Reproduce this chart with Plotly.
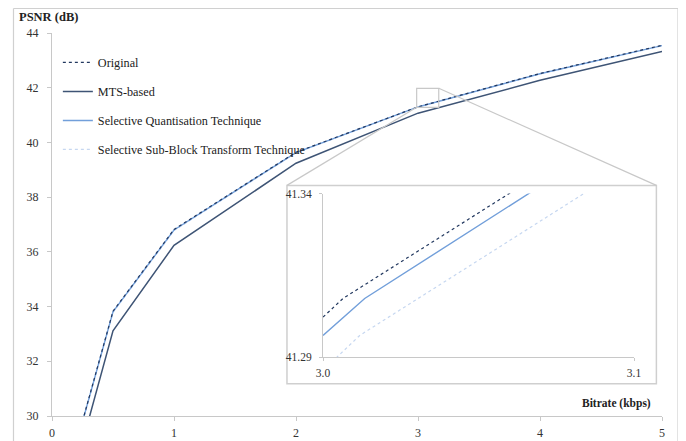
import plotly.graph_objects as go

# ---------------- data ----------------
bitrate = [0.25, 0.5, 1, 2, 3, 4, 5]
original = [29.81, 33.83, 36.82, 39.64, 41.30, 42.52, 43.55]
mts_based = [29.04, 33.11, 36.24, 39.24, 41.07, 42.27, 43.32]
sel_quant = [29.79, 33.81, 36.80, 39.63, 41.297, 42.51, 43.54]
sel_subblock = [29.77, 33.79, 36.78, 39.62, 41.292, 42.50, 43.53]

# zoomed inset values
inset_orig_x = [3.0, 3.0064, 3.0700]
inset_orig_y = [41.3022, 41.3079, 41.3461]
inset_sq_x = [3.0, 3.0134, 3.0750]
inset_sq_y = [41.2966, 41.3079, 41.3454]
inset_ssb_x = [3.0, 3.0118, 3.0900]
inset_ssb_y = [41.2859, 41.2966, 41.3437]

main_xticks = [0, 1, 2, 3, 4, 5]
main_yticks = [30, 32, 34, 36, 38, 40, 42, 44]
inset_xticks = [3.0, 3.1]
inset_xtext = ["3.0", "3.1"]
inset_yticks = [41.29, 41.34]
inset_ytext = ["41.29", "41.34"]

names = ["Original", "MTS-based", "Selective Quantisation Technique",
         "Selective Sub-Block Transform Technique"]

C_ORIG = "#22385F"
C_MTS = "#3E5475"
C_SQ = "#729FDA"
C_SSB = "#C6D7F0"
FONT = "Liberation Serif"
AX = "#C8C8C8"
TXT = "#222222"

# plot-area geometry (pixels) used to place decorations in paper units
L, R, T, B = 44, 24, 25, 25
W, H = 678, 433
PW, PH = W - L - R, H - T - B

fig = go.Figure()

styles = [
    (sel_subblock, names[3], C_SSB, "dot", 1.2),
    (sel_quant, names[2], C_SQ, "solid", 1.4),
    (mts_based, names[1], C_MTS, "solid", 1.5),
    (original, names[0], C_ORIG, "dot", 1.2),
]
rank = {names[0]: 1, names[1]: 2, names[2]: 3, names[3]: 4}
for ys, nm, col, dash, w in styles:
    fig.add_trace(go.Scatter(x=bitrate, y=ys, name=nm, mode="lines",
                             line=dict(color=col, dash=dash, width=w),
                             legendgroup=nm, legendrank=rank[nm],
                             xaxis="x", yaxis="y"))

for xs, ys, col, dash, w in [
    (inset_ssb_x, inset_ssb_y, C_SSB, "dot", 1.2),
    (inset_sq_x, inset_sq_y, C_SQ, "solid", 1.4),
    (inset_orig_x, inset_orig_y, C_ORIG, "dot", 1.2),
]:
    fig.add_trace(go.Scatter(x=xs, y=ys, mode="lines", showlegend=False,
                             line=dict(color=col, dash=dash, width=w),
                             xaxis="x2", yaxis="y2"))

# inset box + connectors (main data coordinates)
box = dict(x0=1.926, x1=4.954, y0=31.18, y1=38.43)
zoom_rect = dict(x0=2.989, x1=3.170, y0=41.284, y1=41.978)
GRAY = "#C8C8C8"
shapes = [
    dict(type="rect", xref="x", yref="y", **box, fillcolor="white",
         line=dict(color="#CFCFCF", width=1.5), layer="below"),
    dict(type="rect", xref="x", yref="y", **zoom_rect,
         line=dict(color=GRAY, width=1.2)),
    dict(type="line", xref="x", yref="y", x0=zoom_rect["x0"], y0=zoom_rect["y0"],
         x1=box["x0"], y1=box["y1"], line=dict(color=GRAY, width=1.2)),
    dict(type="line", xref="x", yref="y", x0=zoom_rect["x1"], y0=zoom_rect["y1"],
         x1=box["x1"], y1=box["y1"], line=dict(color=GRAY, width=1.2)),
    # outer frame
    dict(type="line", xref="paper", yref="paper", x0=(5.5 - L) / PW, x1=(5.5 - L) / PW,
         y0=-B / PH, y1=1 + (T - 0.5) / PH, line=dict(color="#D0D0D0", width=1.2)),
    dict(type="line", xref="paper", yref="paper", x0=(5.5 - L) / PW, x1=(670 - L) / PW,
         y0=1 + (T - 0.5) / PH, y1=1 + (T - 0.5) / PH, line=dict(color="#D0D0D0", width=1.2)),
    dict(type="line", xref="paper", yref="paper", x0=(670 - L) / PW, x1=(670 - L) / PW,
         y0=-B / PH, y1=1 + (T - 0.5) / PH, line=dict(color="#D0D0D0", width=1.2)),
]

axis_common = dict(showgrid=False, zeroline=False, showline=True, linecolor=AX,
                   linewidth=1, ticks="outside", tickcolor=AX, automargin=False)

fig.update_layout(
    width=W, height=H,
    margin=dict(l=L, r=R, t=T, b=B, autoexpand=False),
    paper_bgcolor="white", plot_bgcolor="white",
    font=dict(family=FONT, size=12, color=TXT),
    showlegend=True,
    legend=dict(x=0.0096, y=0.961, xanchor="left", yanchor="top",
                bgcolor="rgba(0,0,0,0)", tracegroupgap=10,
                font=dict(family=FONT, size=12.2, color=TXT)),
    xaxis=dict(range=[0, 5], tickvals=main_xticks, ticklen=4, ticklabelstandoff=2,
               tickfont=dict(size=12, color="#333333"), **axis_common),
    yaxis=dict(range=[30, 44], tickvals=main_yticks, ticklen=4, ticklabelstandoff=6,
               tickfont=dict(size=12, color="#333333"), **axis_common),
    xaxis2=dict(domain=[0.4443, 0.9541], anchor="y2", range=[3.0, 3.1],
                tickvals=inset_xticks, ticktext=inset_xtext, ticklen=3,
                ticklabelstandoff=2, tickfont=dict(size=11.5, color="#333333"),
                **axis_common),
    yaxis2=dict(domain=[0.1540, 0.5807], anchor="x2", range=[41.29, 41.34],
                tickvals=inset_yticks, ticktext=inset_ytext, ticklen=3,
                ticklabelstandoff=5, tickfont=dict(size=11.5, color="#333333"),
                **axis_common),
    shapes=shapes,
    annotations=[
        dict(text="<b>PSNR (dB)</b>", xref="paper", yref="paper",
             x=-0.0579, y=1.0426, xanchor="left", yanchor="middle",
             showarrow=False, font=dict(family=FONT, size=12.5, color=TXT)),
        dict(text="<b>Bitrate (kbps)</b>", xref="paper", yref="paper",
             x=0.9857, y=0.033, xanchor="right", yanchor="middle",
             showarrow=False, font=dict(family=FONT, size=11.5, color=TXT)),
    ],
)

fig.write_html("out.html")
